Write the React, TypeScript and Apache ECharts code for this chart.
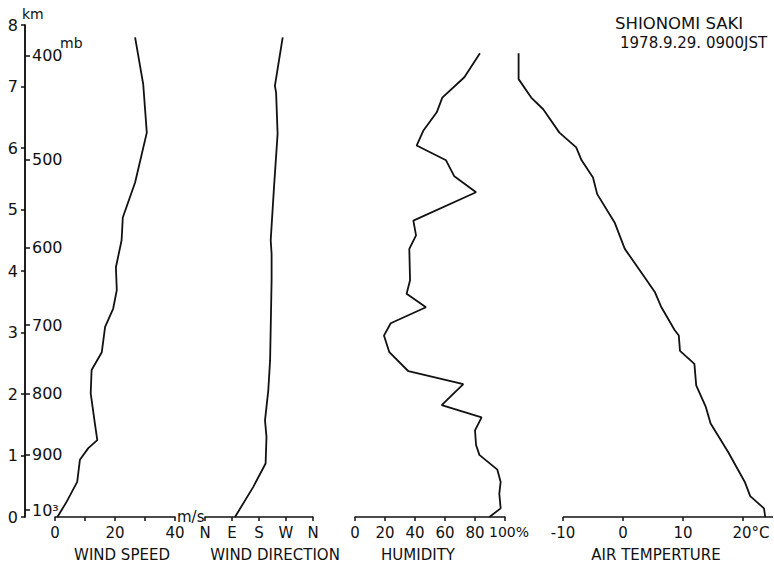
import React, { useEffect, useRef } from 'react';
import * as echarts from 'echarts';

const FONT = 'DejaVu Sans';
const INK = '#111';

// Height axis (km) and pressure marks (mb)
const kmMax = 8;
const mbLabels = ['10³', '900', '800', '700', '600', '500', '400'];
const mbHeights = [0.11, 1.02, 2.01, 3.12, 4.38, 5.81, 7.5];

// Wind speed (m/s) vs height (km)
const wsHeights = [0, 0.25, 0.57, 0.93, 1.12, 1.25, 1.52, 2.01, 2.39, 2.68, 3.09, 3.39, 3.69, 4.06, 4.5, 4.87, 5.44, 6.25, 7.04, 7.8];
const windSpeed = [0.8, 3.9, 7.4, 8.3, 11.1, 14.1, 13.3, 11.9, 12.2, 15.6, 16.7, 19.4, 20.6, 20.3, 22.2, 22.6, 26.7, 30.6, 29.4, 26.7];

// Wind direction (degrees from N) vs height
const wdHeights = [0, 0.49, 0.87, 1.3, 1.57, 2.06, 2.55, 3.85, 4.28, 4.5, 5.36, 6.23, 6.9, 7.01, 7.8];
const windDir = [100, 161, 202, 205, 200, 211, 217, 222, 222, 219, 230, 242, 237, 233, 259];
const dirLabels = ['N', 'E', 'S', 'W', 'N'];

// Humidity (%) vs height
const humHeights = [0, 0.14, 0.38, 0.57, 0.77, 1.01, 1.17, 1.41, 1.62, 1.82, 2.16, 2.37, 2.68, 2.95, 3.15, 3.41, 3.63, 3.85, 4.36, 4.58, 4.82, 5.28, 5.54, 5.8, 6.04, 6.28, 6.58, 6.82, 7.15, 7.54];
const humidity = [89.6, 97.1, 96.2, 97.1, 94.9, 82.9, 80.7, 80, 84.4, 57.8, 72.2, 35.6, 22.9, 19.3, 23.8, 47.3, 34.4, 36.7, 36.2, 40.7, 38.9, 80.7, 66.2, 60.7, 41.1, 45.5, 54.5, 58.2, 72.9, 83.3];
const humTicks = [0, 20, 40, 60, 80, 100];
const humLabelsLow = [0, 20, 40, 60, 80];
const humLabelMax = [100];

// Air temperature (°C) vs height
const tHeights = [0, 0.14, 0.34, 0.57, 1.06, 1.52, 1.79, 2.14, 2.49, 2.7, 2.95, 3.04, 3.41, 3.66, 3.9, 4.36, 4.79, 5.25, 5.52, 5.8, 6.01, 6.25, 6.63, 6.82, 7.12, 7.54];
const airTemp = [23.7, 23.5, 21.2, 20.3, 17.5, 14.6, 13.8, 12.2, 11.9, 9.5, 9.3, 8.6, 6.4, 5.3, 3.6, 0.3, -1.4, -4.3, -5.0, -6.9, -7.8, -10.6, -13.3, -15.3, -17.4, -17.4];
const tempTicks = [-10, 0, 10, 20];
const tempAxisStart = -10;
const tempAxisEnd = 25;

const pairs = (xs: number[], hs: number[]) => xs.map((v, i) => [v, hs[i]]);

const axisLineStyle = { color: INK, width: 1.5 };
const labelStyle = {
  color: INK,
  fontSize: 15,
  fontFamily: FONT,
  margin: 8,
  showMinLabel: true,
  showMaxLabel: true,
  hideOverlap: false,
};

function xAxisBase(gridIndex: number) {
  return {
    type: 'value',
    gridIndex,
    position: 'bottom',
    axisLine: { show: true, onZero: false, lineStyle: axisLineStyle },
    axisTick: { show: true, length: 4, lineStyle: axisLineStyle },
    splitLine: { show: false },
    axisLabel: { ...labelStyle },
  };
}

function hiddenY(gridIndex: number) {
  return { type: 'value', gridIndex, min: 0, max: kmMax, show: false };
}

function lineSeries(name: string, xi: number, yi: number, data: number[][]) {
  return {
    name,
    type: 'line',
    xAxisIndex: xi,
    yAxisIndex: yi,
    data,
    symbol: 'none',
    showSymbol: false,
    clip: false,
    lineStyle: { color: INK, width: 1.8 },
    silent: true,
  };
}

function txt(text: string, x: number, y: number, size: number, align: string) {
  return {
    type: 'text',
    x,
    y,
    silent: true,
    style: {
      text,
      fill: INK,
      font: `${size}px "${FONT}"`,
      textAlign: align,
      textVerticalAlign: 'middle',
      align,
      verticalAlign: 'middle',
    },
  };
}

export default function App() {
  const ref = useRef<HTMLDivElement>(null);
  useEffect(() => {
    if (!ref.current) return;
    const chart = echarts.init(ref.current, undefined, { renderer: 'svg' });
    const gTop = 25;
    const gH = 492;
    const tempSeries: any = lineSeries('Air temperature', 3, 4, pairs(airTemp, tHeights));
    tempSeries.markLine = {
      silent: true,
      symbol: ['none', 'none'],
      label: { show: false },
      lineStyle: { color: INK, width: 1.5, type: 'solid' },
      data: [[{ coord: [tempAxisStart, 0] }, { coord: [tempAxisEnd, 0] }]],
    };
    chart.setOption({
      animation: false,
      backgroundColor: '#fff',
      textStyle: { fontFamily: FONT },
      grid: [
        { left: 55, top: gTop, width: 120, height: gH },
        { left: 205, top: gTop, width: 108, height: gH },
        { left: 355, top: gTop, width: 150, height: gH },
        { left: 503, top: gTop, width: 270, height: gH },
      ],
      xAxis: [
        {
          ...xAxisBase(0),
          min: 0,
          max: 40,
          interval: 10,
          axisLabel: { ...labelStyle, formatter: (v: number) => (v % 20 === 0 ? String(v) : '') },
          name: 'm/s',
          nameLocation: 'end',
          nameGap: 2,
          nameTextStyle: { color: INK, fontSize: 15, fontFamily: FONT, align: 'left', verticalAlign: 'middle' },
        },
        {
          ...xAxisBase(1),
          min: 0,
          max: 360,
          interval: 90,
          axisLabel: { ...labelStyle, formatter: (v: number) => dirLabels[Math.round(v / 90)] || '' },
        },
        {
          ...xAxisBase(2),
          min: 0,
          max: 100,
          interval: 20,
          axisTick: { show: true, length: 4, lineStyle: axisLineStyle, customValues: humTicks },
          axisLabel: { ...labelStyle, customValues: humLabelsLow, formatter: (v: number) => String(v) },
        },
        {
          ...xAxisBase(3),
          min: -20,
          max: tempAxisEnd,
          interval: 10,
          axisLine: { show: false },
          axisTick: { show: true, length: 4, lineStyle: axisLineStyle, customValues: tempTicks },
          axisLabel: {
            ...labelStyle,
            customValues: tempTicks,
            formatter: (v: number) => (v === 20 ? '{a|20°C}' : String(v)),
            rich: { a: { color: INK, fontSize: 15, fontFamily: FONT, padding: [0, 0, 0, 16] } },
          },
        },
        {
          ...xAxisBase(2),
          min: 0,
          max: 100,
          interval: 20,
          axisLine: { show: false },
          axisTick: { show: false },
          axisLabel: {
            ...labelStyle,
            customValues: humLabelMax,
            formatter: (v: number) => `{a|${v}%}`,
            rich: { a: { color: INK, fontSize: 14, fontFamily: FONT, padding: [0, 0, 0, 8] } },
          },
        },
      ],
      yAxis: [
        {
          type: 'value',
          gridIndex: 0,
          position: 'left',
          offset: 30,
          min: 0,
          max: kmMax,
          interval: 1,
          axisLine: { show: true, onZero: false, lineStyle: axisLineStyle },
          axisTick: { show: true, length: 4, lineStyle: axisLineStyle },
          splitLine: { show: false },
          axisLabel: { color: INK, fontSize: 16, fontFamily: FONT, margin: 7, showMinLabel: true, showMaxLabel: true },
        },
        {
          type: 'value',
          gridIndex: 0,
          position: 'left',
          offset: 30,
          min: 0,
          max: kmMax,
          axisLine: { show: true, onZero: false, lineStyle: axisLineStyle },
          axisTick: { show: true, inside: true, length: 5, lineStyle: axisLineStyle, customValues: mbHeights },
          splitLine: { show: false },
          axisLabel: {
            inside: true,
            color: INK,
            fontSize: 16,
            fontFamily: FONT,
            margin: 7,
            customValues: mbHeights,
            formatter: (v: number) => {
              const i = mbHeights.findIndex((h) => Math.abs(h - v) < 1e-6);
              return i >= 0 ? mbLabels[i] : '';
            },
          },
        },
        hiddenY(1),
        hiddenY(2),
        hiddenY(3),
      ],
      series: [
        lineSeries('Wind speed', 0, 0, pairs(windSpeed, wsHeights)),
        lineSeries('Wind direction', 1, 2, pairs(windDir, wdHeights)),
        lineSeries('Humidity', 2, 3, pairs(humidity, humHeights)),
        tempSeries,
      ],
      graphic: [
        txt('km', 22, 14, 14, 'left'),
        txt('mb', 60, 43, 14, 'left'),
        txt('WIND SPEED', 122, 555, 15, 'center'),
        txt('WIND DIRECTION', 275, 555, 15, 'center'),
        txt('HUMIDITY', 418, 555, 15, 'center'),
        txt('AIR TEMPERTURE', 656, 555, 15, 'center'),
        txt('SHIONOMI SAKI', 615, 23, 16.5, 'left'),
        txt('1978.9.29. 0900JST', 620, 43, 15, 'left'),
      ],
    });
    return () => chart.dispose();
  }, []);
  return (
    <div
      ref={ref}
      style={{ position: 'fixed', left: 0, top: 0, width: 774, height: 566, background: '#fff' }}
    />
  );
}
